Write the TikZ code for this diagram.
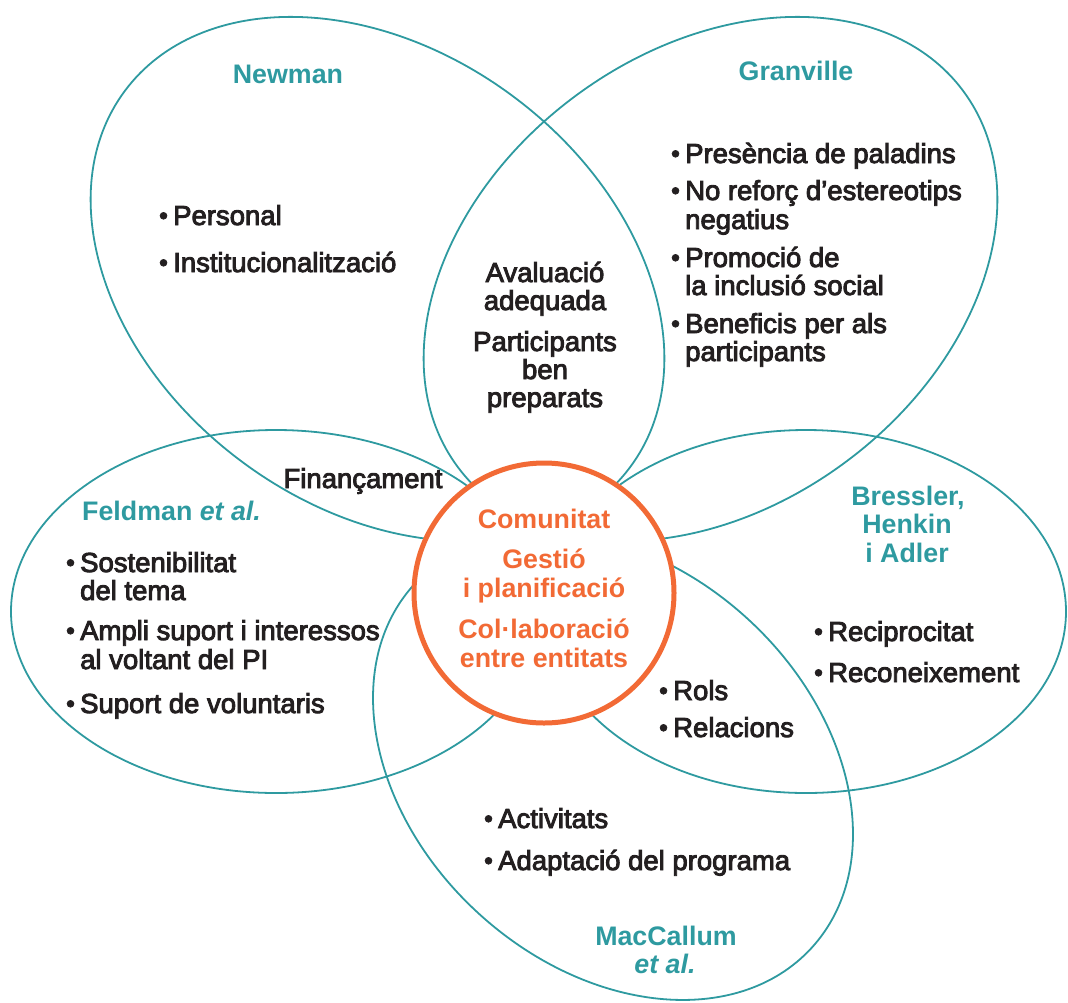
\documentclass[tikz,border=0pt]{standalone}
\usepackage{fontspec}
\usepackage{graphicx}
\setmainfont{Liberation Sans}
\newfontfamily\bodyf{Liberation Sans}
\definecolor{petalc}{HTML}{2E9AA0}
\definecolor{corec}{HTML}{F26A35}
\definecolor{inkc}{HTML}{231F20}
\newcommand\bl{\makebox[12.5pt][l]{\hspace{-1.5pt}\raisebox{1pt}{\scalebox{0.9}{\textbullet}}}}
\newcommand\heavyon{\special{pdf:literal direct 2 Tr 0.9 w}}
\newcommand\heavyoff{\special{pdf:literal direct 0 Tr}}
\begin{document}
\begin{tikzpicture}[x=1pt,y=-1pt,
  petal/.style={draw=petalc, line width=1.8pt},
  core/.style={draw=corec, line width=5pt, fill=white, circle, inner sep=0pt, minimum size=260pt},
  body/.style={font=\bodyf\fontsize{27.5}{30}\selectfont, text=inkc, inner sep=0pt, anchor=base west,
    execute at begin node=\heavyon, execute at end node=\heavyoff},
  bodyc/.style={body, anchor=base},
  ttl/.style={font=\bfseries\fontsize{26.8}{30}\selectfont, text=petalc, inner sep=0pt, anchor=base},
  ctr/.style={font=\bfseries\fontsize{26.8}{30}\selectfont, text=corec, inner sep=0pt, anchor=base}]
\useasboundingbox (0,0) rectangle (1068,1002);
\clip (0,0) rectangle (1068,1002);
% petals
\draw[petal, rotate around={-36.7:(377.5,279)}] (377.5,279) ellipse [x radius=315, y radius=227.5];
\draw[petal, rotate around={36.7:(710.5,279)}] (710.5,279) ellipse [x radius=315, y radius=227.5];
\draw[petal] (276,611.5) ellipse [x radius=265, y radius=181.5];
\draw[petal] (806,611.5) ellipse [x radius=260, y radius=181.5];
\draw[petal, rotate around={-42.5:(613,766)}] (613,766) ellipse [x radius=269.3, y radius=199.5];
% core
\node[core] (core) at (544,593) {};
% core text
\node[ctr] (c1) at (544,528) {Comunitat};
\node[ctr] (c2) at (544,568) {Gestió};
\node[ctr] (c3) at (544,597) {i planificació};
\node[ctr] (c4) at (544,638) {Col·laboració};
\node[ctr] (c5) at (544,667) {entre entitats};
% titles
\node[ttl] (newman) at (288,83) {Newman};
\node[ttl] (granville) at (796,80) {Granville};
\node[ttl, anchor=base west] (feldman) at (82,520) {Feldman \textit{et al.}};
\node[ttl] (b1) at (908,505) {Bressler,};
\node[ttl] (b2) at (907,533) {Henkin};
\node[ttl] (b3) at (907,562) {i Adler};
\node[ttl] (m3) at (666,945) {MacCallum};
\node[ttl] (m4) at (665,973) {\textit{et al.}};
% Newman
\node[body] (n1) at (160.5,225) {\bl Personal};
\node[body] (n2) at (160.5,272) {\bl Institucionalització};
% lens
\node[bodyc] (l1) at (545,282) {Avaluació};
\node[bodyc] (l2) at (545,310) {adequada};
\node[bodyc] (l3) at (545,351) {Participants};
\node[bodyc] (l4) at (545,379) {ben};
\node[bodyc] (l5) at (545,407) {preparats};
% Granville
\node[body] (g1) at (672.5,163) {\bl Presència de paladins};
\node[body] (g2) at (672.5,200) {\bl No reforç d’estereotips};
\node[body] (g3) at (685,229) {negatius};
\node[body] (g4) at (672.5,267) {\bl Promoció de};
\node[body] (g5) at (685,295) {la inclusió social};
\node[body] (g6) at (672.5,333) {\bl Beneficis per als};
\node[body] (g7) at (685,361) {participants};
% Finançament
\node[bodyc] (fin) at (363,488) {Finançament};
% Feldman
\node[body] (f1) at (67.5,572) {\bl Sostenibilitat};
\node[body] (f2) at (80,600) {del tema};
\node[body] (f3) at (67.5,640) {\bl Ampli suport i interessos};
\node[body] (f4) at (80,669) {al voltant del PI};
\node[body] (f5) at (67.5,713) {\bl Suport de voluntaris};
% Bressler
\node[body] (b4) at (815.5,641) {\bl Reciprocitat};
\node[body] (b5) at (815.5,682) {\bl Reconeixement};
\node[body] (r1) at (660.5,700) {\bl Rols};
\node[body] (r2) at (660.5,737) {\bl Relacions};
% MacCallum
\node[body] (m1) at (485.5,828) {\bl Activitats};
\node[body] (m2) at (485.5,870) {\bl Adaptació del programa};
\end{tikzpicture}
\end{document}
